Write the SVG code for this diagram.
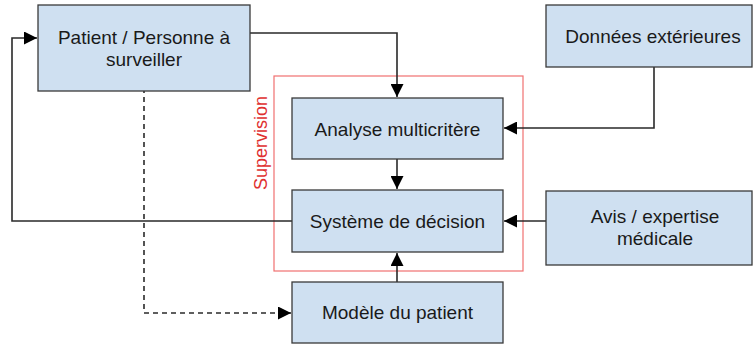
<svg xmlns="http://www.w3.org/2000/svg" width="754" height="345" viewBox="0 0 754 345">
<defs>
<style>
.box{fill:#cfe0f1;stroke:#3a3a3a;stroke-width:1.3}
.lbl{font-family:"Liberation Sans",Arial,sans-serif;font-size:19px;fill:#1a1a1a;text-anchor:middle}
.ln{fill:none;stroke:#2a2a2a;stroke-width:1.6}
.dash{stroke-dasharray:5,4}
</style>
<marker id="ah" viewBox="0 0 13 13" refX="13" refY="6.5" markerWidth="13" markerHeight="13" markerUnits="userSpaceOnUse" orient="auto">
<path d="M0,0 L13,6.5 L0,13 Z" fill="#000"/>
</marker>
</defs>
<rect width="754" height="345" fill="#fff"/>
<g id="supervision">
<rect x="274" y="76" width="249" height="195" fill="none" stroke="#f07070" stroke-width="1.2"/>
<text x="262" y="143" transform="rotate(-90 262 143)" font-family="Liberation Sans,Arial,sans-serif" font-size="18" fill="#e03030" text-anchor="middle" dominant-baseline="middle">Supervision</text>
</g>
<g id="connectors">
<path class="ln" d="M250,33 H397 V97" marker-end="url(#ah)"/>
<path class="ln" d="M654,67 V128 H504" marker-end="url(#ah)"/>
<path class="ln" d="M397,159 V189" marker-end="url(#ah)"/>
<path class="ln" d="M546,221 H504" marker-end="url(#ah)"/>
<path class="ln" d="M397,282 V253" marker-end="url(#ah)"/>
<path class="ln" d="M292,221 H12 V38 H37" marker-end="url(#ah)"/>
<path class="ln dash" d="M144,70 V313 H291" marker-end="url(#ah)"/>
</g>
<g id="patient">
<rect class="box" x="38" y="5" width="212" height="86"/>
<text class="lbl" x="144" y="44">Patient / Personne à</text>
<text class="lbl" x="144" y="66">surveiller</text>
</g>
<g id="donnees">
<rect class="box" x="546" y="5" width="206" height="62"/>
<text class="lbl" x="653" y="43">Données extérieures</text>
</g>
<g id="analyse">
<rect class="box" x="292" y="98" width="211" height="61"/>
<text class="lbl" x="397.5" y="136">Analyse multicritère</text>
</g>
<g id="systeme">
<rect class="box" x="292" y="190" width="211" height="62"/>
<text class="lbl" x="397.5" y="228">Système de décision</text>
</g>
<g id="avis">
<rect class="box" x="546" y="191" width="206" height="74"/>
<text class="lbl" x="655" y="223">Avis / expertise</text>
<text class="lbl" x="655" y="245">médicale</text>
</g>
<g id="modele">
<rect class="box" x="292" y="282" width="211" height="61"/>
<text class="lbl" x="397.5" y="319">Modèle du patient</text>
</g>
</svg>
